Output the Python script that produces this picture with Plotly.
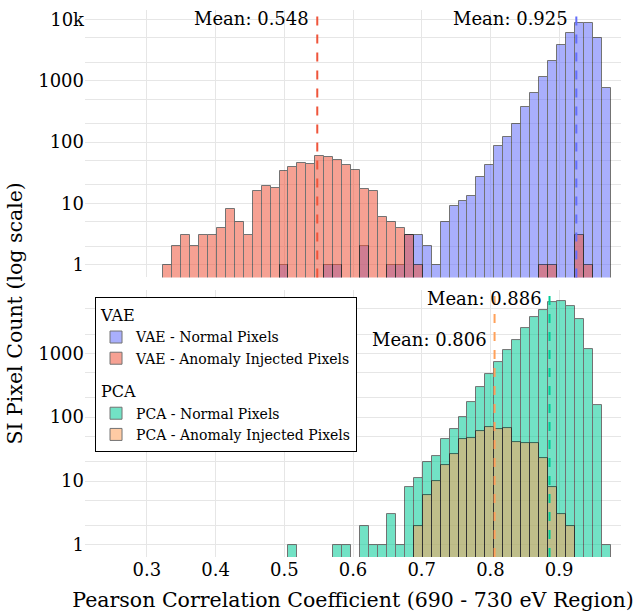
import plotly.graph_objects as go
from plotly.subplots import make_subplots

# ---- data ----
bin_start = 0.3238
bin_width = 0.013023
n_bins = 50

vae_normal = [0, 0, 0, 0, 0, 0, 0, 0, 0, 0,
              0, 0, 0, 1, 0, 0, 0, 0, 1, 1,
              0, 0, 2, 0, 0, 1, 1, 3, 3, 2,
              1, 5, 9, 11, 13, 27, 42, 86, 120, 200,
              372, 620, 1170, 2120, 3760, 6110, 8670, 8650, 4960, 767]
vae_anomaly = [1, 2, 3, 2, 3, 3, 4, 8, 5, 3,
               16, 19, 18, 34, 39, 46, 44, 59, 57, 50,
               42, 35, 17, 16, 6, 5, 4, 3, 1, 0,
               0, 0, 0, 0, 0, 0, 0, 0, 0, 0,
               0, 0, 1, 1, 0, 0, 3, 1, 0, 0]
pca_normal = [0, 0, 0, 0, 0, 0, 0, 0, 0, 0,
              0, 0, 0, 0, 1, 0, 0, 0, 0, 1,
              1, 0, 2, 1, 1, 3, 1, 8, 11, 20,
              25, 46, 66, 99, 171, 295, 470, 725, 1115, 1630,
              2450, 3650, 4800, 6270, 6500, 5540, 3400, 1170, 155, 1]
pca_anomaly = [0, 0, 0, 0, 0, 0, 0, 0, 0, 0,
               0, 0, 0, 0, 0, 0, 0, 0, 0, 0,
               0, 0, 0, 0, 0, 0, 0, 0, 2, 6,
               10, 18, 26, 45, 47, 60, 69, 64, 67, 41,
               39, 39, 23, 8, 3, 2, 0, 0, 0, 0]

means = {"vae_normal": 0.925, "vae_anomaly": 0.548,
         "pca_normal": 0.886, "pca_anomaly": 0.806}

x_ticks = [0.3, 0.4, 0.5, 0.6, 0.7, 0.8, 0.9]

# ---- figure ----
centers = [bin_start + (i + 0.5) * bin_width for i in range(n_bins)]
FONT = "DejaVu Serif"
C_BLUE, C_RED, C_GREEN, C_ORANGE = "#636EFA", "#EF553B", "#00CC96", "#FFA15A"
GRID = "#E6E6E6"


def nz(v):
    return [c if c > 0 else None for c in v]


fig = make_subplots(rows=2, cols=1, shared_xaxes=True)

series = [
    (vae_normal, "VAE - Normal Pixels", C_BLUE, "VAE", 1),
    (vae_anomaly, "VAE - Anomaly Injected Pixels", C_RED, "VAE", 1),
    (pca_normal, "PCA - Normal Pixels", C_GREEN, "PCA", 2),
    (pca_anomaly, "PCA - Anomaly Injected Pixels", C_ORANGE, "PCA", 2),
]
for vals, name, col, grp, row in series:
    fig.add_trace(go.Bar(
        x=centers, y=nz(vals), width=bin_width, name=name,
        marker=dict(color=col, line=dict(color="black", width=1)),
        opacity=0.55, legendgroup=grp,
        legendgrouptitle=dict(text=grp, font=dict(size=16, family=FONT, color="black")),
    ), row=row, col=1)

mean_specs = [
    ("vae_normal", C_BLUE, 1, -8),
    ("vae_anomaly", C_RED, 1, -8),
    ("pca_normal", C_GREEN, 2, -8),
    ("pca_anomaly", C_ORANGE, 2, -49),
]
for key, col, row, ysh in mean_specs:
    xref = "x" if row == 1 else "x2"
    yref = "y domain" if row == 1 else "y2 domain"
    fig.add_shape(type="line", xref=xref, yref=yref, x0=means[key], x1=means[key],
                  y0=0, y1=1, line=dict(color=col, width=2, dash="dash"))
    fig.add_annotation(x=means[key], xref=xref, y=1, yref=yref,
                       text=f"Mean: {means[key]:.3f}", showarrow=False,
                       xanchor="right", yanchor="middle", xshift=-6, yshift=ysh,
                       font=dict(size=18, family=FONT, color="black"))

fig.add_annotation(text="SI Pixel Count (log scale)", xref="paper", yref="paper",
                   x=-0.1306, y=0.445, textangle=-90, showarrow=False,
                   xanchor="center", yanchor="middle",
                   font=dict(size=20.5, family=FONT, color="black"))

axis_common = dict(showgrid=True, gridcolor=GRID, zeroline=False, showline=False,
                   ticks="", tickfont=dict(size=18, family=FONT, color="black"))
fig.update_xaxes(range=[0.21, 0.99], tickvals=x_ticks, **axis_common)
fig.update_xaxes(showticklabels=False, row=1, col=1)
fig.update_xaxes(title=dict(text="Pearson Correlation Coefficient (690 - 730 eV Region)",
                            font=dict(size=20.5, family=FONT, color="black"), standoff=13),
                 row=2, col=1)
fig.update_yaxes(type="log", dtick=1,
                 minor=dict(showgrid=True, gridcolor=GRID, dtick="D2", ticks=""),
                 **axis_common)
fig.update_yaxes(range=[-0.211, 4.154], domain=[0.511, 1.0], row=1, col=1)
fig.update_yaxes(range=[-0.19, 3.99], domain=[0.0, 0.488], row=2, col=1)

fig.update_layout(
    width=634, height=616,
    margin=dict(l=85, r=13, t=9, b=57),
    barmode="overlay",
    bargap=0,
    plot_bgcolor="white", paper_bgcolor="white",
    font=dict(family=FONT, color="black"),
    legend=dict(x=0.0187, y=0.476, xanchor="left", yanchor="top",
                bgcolor="white", bordercolor="black", borderwidth=1,
                font=dict(size=14, family=FONT, color="black"),
                tracegroupgap=10),
    showlegend=True,
)

fig.write_html("out.html")
